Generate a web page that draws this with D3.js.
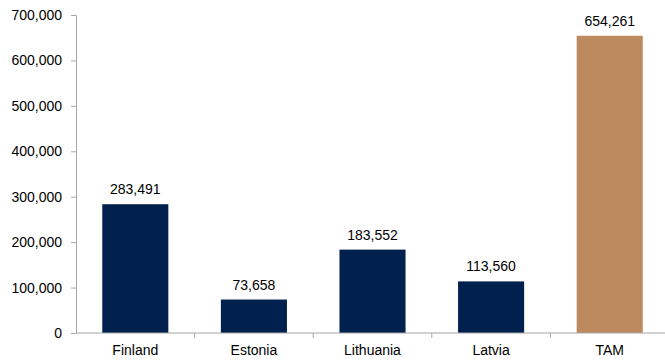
<!DOCTYPE html>
<html>
<head>
<meta charset="utf-8">
<script src="https://cdn.jsdelivr.net/npm/d3@7"></script>
<style>
  body { margin: 0; background: #fff; }
  svg { display: block; font-family: Arial, "Liberation Sans", sans-serif; }
</style>
</head>
<body>
<svg id="chart" width="665" height="363"></svg>
<script>
// data
const categories = ["Finland", "Estonia", "Lithuania", "Latvia", "TAM"];
const values = [283491, 73658, 183552, 113560, 654261];
const colors = ["#00204E", "#00204E", "#00204E", "#00204E", "#BC8A5E"];
const yTicks = [0, 100000, 200000, 300000, 400000, 500000, 600000, 700000];

const config = {
    width: 665,
    height: 363,
    margin: {top: 15, right: -4, bottom: 30, left: 76}
};

const svg = d3.select("#chart");
const innerW = config.width - config.margin.left - config.margin.right;
const innerH = config.height - config.margin.top - config.margin.bottom;

const g = svg.append("g")
    .attr("transform", `translate(${config.margin.left}, ${config.margin.top})`);

const x = d3.scaleBand()
    .domain(categories)
    .range([0, innerW])
    .paddingInner(0.443)
    .paddingOuter(0.2215);

const y = d3.scaleLinear()
    .domain([0, 700000])
    .range([innerH, 0]);

const fmt = d3.format(",");

// y axis
const yAxis = g.append("g")
    .call(d3.axisLeft(y).tickValues(yTicks).tickFormat(fmt).tickSize(5).tickPadding(9));
yAxis.select(".domain").attr("stroke", "#A6A6A6");
yAxis.selectAll(".tick line").attr("stroke", "#A6A6A6");
yAxis.selectAll(".tick text")
    .attr("fill", "#000")
    .attr("font-size", "14px")
    .attr("font-family", "Arial, 'Liberation Sans', sans-serif");

// bars
g.selectAll(".bar")
    .data(values)
    .enter()
    .append("rect")
    .attr("class", "bar")
    .attr("x", (d, i) => x(categories[i]))
    .attr("y", d => y(d))
    .attr("width", x.bandwidth())
    .attr("height", d => innerH - y(d))
    .attr("fill", (d, i) => colors[i]);

// value labels
g.selectAll(".val")
    .data(values)
    .enter()
    .append("text")
    .attr("class", "val")
    .attr("x", (d, i) => x(categories[i]) + x.bandwidth() / 2)
    .attr("y", d => y(d) - 10)
    .attr("text-anchor", "middle")
    .attr("font-size", "14px")
    .attr("fill", "#000")
    .text(d => fmt(d));

// x axis baseline with boundary ticks
const step = x.step();
const xg = g.append("g").attr("transform", `translate(0, ${innerH})`);
xg.append("line")
    .attr("x1", 0).attr("x2", innerW)
    .attr("stroke", "#A6A6A6");
xg.selectAll(".bt")
    .data(d3.range(1, categories.length))
    .enter()
    .append("line")
    .attr("x1", d => d * step).attr("x2", d => d * step)
    .attr("y1", 0).attr("y2", 5)
    .attr("stroke", "#A6A6A6");
xg.selectAll(".cl")
    .data(categories)
    .enter()
    .append("text")
    .attr("x", d => x(d) + x.bandwidth() / 2)
    .attr("y", 22)
    .attr("text-anchor", "middle")
    .attr("font-size", "14px")
    .attr("fill", "#000")
    .text(d => d);
</script>
</body>
</html>
